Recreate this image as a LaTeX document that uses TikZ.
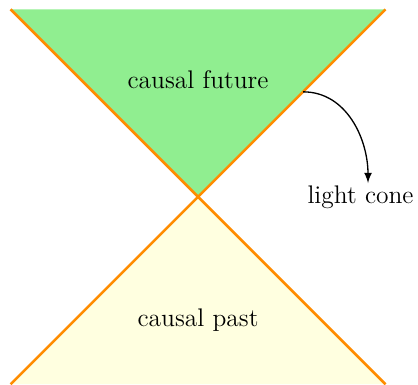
\documentclass[tikz,border=0pt]{standalone}
\usepackage{tikz}
\usetikzlibrary{positioning}
\usetikzlibrary{calc}
\usepackage{amsmath, amssymb}
\definecolor{conegreen}{RGB}{144,238,144}
\definecolor{coneyellow}{RGB}{255,255,224}
\definecolor{coneorange}{RGB}{255,140,0}

\begin{document}
\begin{tikzpicture}
\useasboundingbox (-3.17,-3.01) rectangle (3.52,3.15);

\fill[conegreen] (-3,3) -- (3,3) -- (0,0) -- cycle;
\fill[coneyellow] (-3,-3) -- (3,-3) -- (0,0) -- cycle;

\begin{scope}[every node/.style={inner sep=2pt, font=\fontsize{11.6}{14}\selectfont}]
    \node (future) at (0,1.88) {causal future};
    \node (past) at (0,-1.97) {causal past};
    \node (cone) at (2.6,0) {light cone};
\end{scope}

\coordinate (edge) at (1.68,1.68);
\coordinate (tip) at (2.72,0.22);

\draw[-, coneorange, very thick] (-3,3) -- (3,-3);
\draw[-, coneorange, very thick] (3,3) -- (-3,-3);
\draw[-latex, semithick] (edge) to[out=0, in=90] (tip);
\end{tikzpicture}
\end{document}
